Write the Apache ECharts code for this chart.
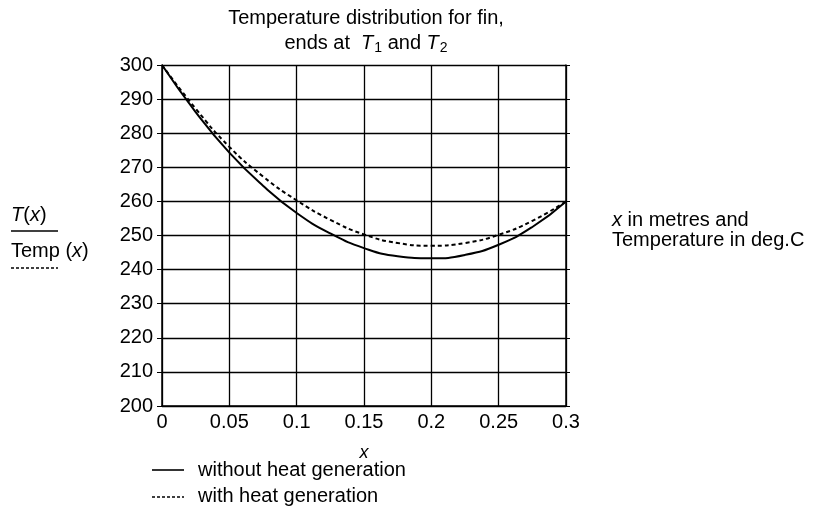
<!DOCTYPE html>
<html>
<head>
<meta charset="utf-8">
<script src="https://cdn.jsdelivr.net/npm/echarts@6/dist/echarts.min.js"></script>
<style>
  html, body { margin: 0; padding: 0; background: #fff; }
  #chart { width: 816px; height: 508px; }
</style>
</head>
<body>
<div id="chart"></div>
<script>
// x in metres
var xValues = [0, 0.025, 0.05, 0.075, 0.1, 0.125, 0.15, 0.175, 0.2, 0.225, 0.25, 0.275, 0.3];
// T(x), no heat generation (solid)
var withoutHeat = [300, 286.2, 274.3, 264.6, 256.6, 250.6, 246.3, 243.9, 243.3, 244.3, 247.3, 252.5, 260];
// Temp(x), with heat generation (dashed)
var withHeat = [300, 287.2, 276.0, 267.3, 260.3, 254.6, 250.3, 247.8, 247.0, 247.8, 250.2, 254.3, 260];
var seriesNames = ['without heat generation', 'with heat generation'];

var font = '"Liberation Sans", Arial, sans-serif';
var fs = 20;

function pairs(xs, ys){
    return xs.map(function(x, i){ return [x, ys[i]]; });
}

var chart = echarts.init(document.getElementById('chart'));

var ital = { i: { fontStyle: 'italic', fontSize: fs, fontFamily: font } };

var option = {
    animation: false,
    backgroundColor: '#fff',
    textStyle: { fontFamily: font, color: '#000' },
    grid: { left: 162, right: 250, top: 65, bottom: 102 },
    xAxis: {
        type: 'value',
        min: 0, max: 0.3, interval: 0.05,
        name: 'x',
        nameLocation: 'middle',
        nameGap: 38,
        nameTextStyle: { fontSize: 18, fontStyle: 'italic', color: '#000', fontFamily: font },
        axisLine: { lineStyle: { color: '#000', width: 1.5 } },
        axisTick: { show: false },
        axisLabel: { fontSize: fs, color: '#000', margin: 6, fontFamily: font },
        splitLine: { lineStyle: { color: '#000', width: 1.3 } }
    },
    yAxis: [{
        type: 'value',
        min: 200, max: 300, interval: 10,
        axisLine: { show: true, lineStyle: { color: '#000', width: 1.5 } },
        axisTick: { show: true, length: 5, lineStyle: { color: '#000' } },
        axisLabel: { fontSize: fs, color: '#000', margin: 9, fontFamily: font },
        splitLine: { lineStyle: { color: '#000', width: 1.3 } }
    }, {
        type: 'value',
        position: 'right',
        min: 200, max: 300, interval: 10,
        axisLine: { show: true, lineStyle: { color: '#000', width: 1.5 } },
        axisTick: { show: true, length: 4, lineStyle: { color: '#000' } },
        axisLabel: { show: false },
        splitLine: { show: false }
    }],
    series: [{
        name: seriesNames[0],
        type: 'line',
        smooth: true,
        symbol: 'none',
        data: pairs(xValues, withoutHeat),
        lineStyle: { color: '#000', width: 2 }
    }, {
        name: seriesNames[1],
        type: 'line',
        smooth: true,
        symbol: 'none',
        data: pairs(xValues, withHeat),
        lineStyle: { color: '#000', width: 2, type: [4, 3] }
    }],
    graphic: [
        // title
        {
            type: 'text',
            style: {
                text: 'Temperature distribution for fin,', x: 366, y: 18,
                font: fs + 'px ' + font, fill: '#000', textAlign: 'center', textVerticalAlign: 'middle'
            }
        },
        {
            type: 'text',
            style: {
                text: 'ends at  {i|T}{s|1} and {i|T}{s|2}', x: 366, y: 43,
                font: fs + 'px ' + font, fill: '#000', textAlign: 'center', textVerticalAlign: 'middle',
                rich: {
                    i: { fontStyle: 'italic', fontSize: fs, fontFamily: font },
                    s: { fontSize: 14, fontFamily: font, padding: [11, 0, 0, 1] }
                }
            }
        },
        // left y labels
        {
            type: 'text',
            style: {
                text: '{i|T}({i|x})', x: 11, y: 215,
                font: fs + 'px ' + font, fill: '#000', textVerticalAlign: 'middle', rich: ital
            }
        },
        { type: 'line', shape: { x1: 11, y1: 231, x2: 58, y2: 231 }, style: { stroke: '#000', lineWidth: 1.5 } },
        {
            type: 'text',
            style: {
                text: 'Temp ({i|x})', x: 11, y: 251,
                font: fs + 'px ' + font, fill: '#000', textVerticalAlign: 'middle', rich: ital
            }
        },
        { type: 'line', shape: { x1: 11, y1: 268, x2: 58, y2: 268 }, style: { stroke: '#000', lineWidth: 1.5, lineDash: [3, 2] } },
        // units note
        {
            type: 'text',
            style: {
                text: '{i|x} in metres and', x: 612, y: 220,
                font: fs + 'px ' + font, fill: '#000', textVerticalAlign: 'middle', rich: ital
            }
        },
        {
            type: 'text',
            style: {
                text: 'Temperature in deg.C', x: 612, y: 240,
                font: fs + 'px ' + font, fill: '#000', textVerticalAlign: 'middle'
            }
        },
        // legend
        { type: 'line', shape: { x1: 152, y1: 470, x2: 184, y2: 470 }, style: { stroke: '#000', lineWidth: 1.6 } },
        {
            type: 'text',
            style: {
                text: seriesNames[0], x: 198, y: 470,
                font: fs + 'px ' + font, fill: '#000', textVerticalAlign: 'middle'
            }
        },
        { type: 'line', shape: { x1: 152, y1: 497, x2: 184, y2: 497 }, style: { stroke: '#000', lineWidth: 1.6, lineDash: [3, 2] } },
        {
            type: 'text',
            style: {
                text: seriesNames[1], x: 198, y: 496,
                font: fs + 'px ' + font, fill: '#000', textVerticalAlign: 'middle'
            }
        }
    ]
};

chart.setOption(option);
</script>
</body>
</html>
